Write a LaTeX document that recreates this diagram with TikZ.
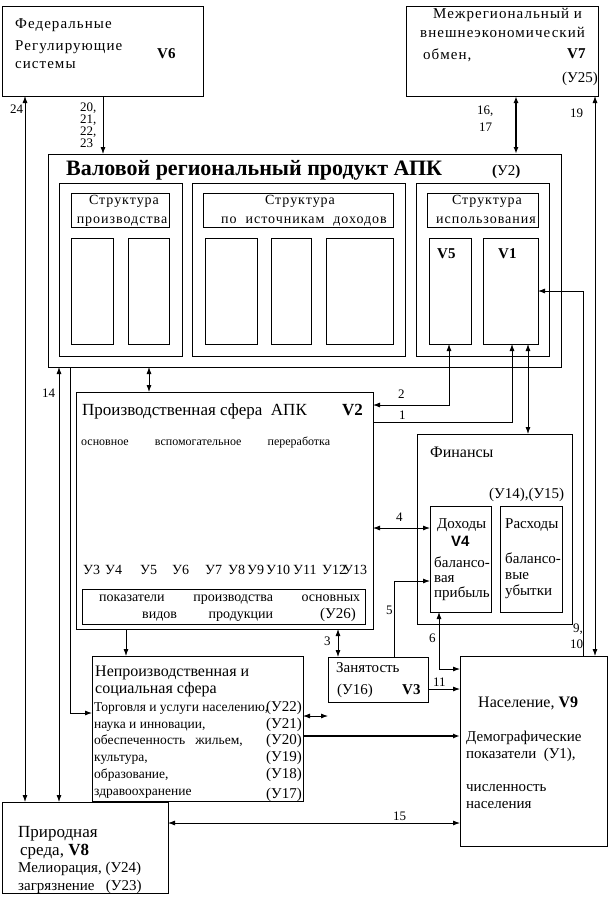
\documentclass[tikz,border=0pt]{standalone}
\usepackage{fontspec}
\setmainfont{Liberation Serif}
\setsansfont{Liberation Sans}
\newfontfamily\wsp{Liberation Serif}[LetterSpace=7]
\usetikzlibrary{arrows.meta}
\newcommand\fsz[1]{\fontsize{#1}{#1}\selectfont}

\begin{document}
\begin{tikzpicture}[x=1pt,y=-1pt,
  box/.style={draw, line width=0.8pt, inner sep=0pt, outer sep=0pt},
  arr/.style={-{Latex[length=7pt,width=5pt]}, line width=0.8pt},
  dbl/.style={{Latex[length=7pt,width=5pt]}-{Latex[length=7pt,width=5pt]}, line width=0.8pt},
  txt/.style={anchor=base west, inner sep=0pt, font=\fsz{15}},
  ctr/.style={anchor=base, inner sep=0pt, font=\wsp\fsz{14}},
  sml/.style={anchor=base west, inner sep=0pt, font=\fsz{13.5}},
  lbl/.style={anchor=base west, inner sep=0pt, font=\fsz{13}}]
\useasboundingbox (0,0) rectangle (614,900);

% boxes
\node[box, minimum width=201, minimum height=90] (v6) at (102.5,51) {};
\node[box, minimum width=192, minimum height=90] (v7) at (502,51) {};
\node[box, minimum width=513, minimum height=213] (vrp) at (304.5,260.5) {};
\node[box, minimum width=123, minimum height=173] (sp) at (120.5,269.5) {};
\node[box, minimum width=98, minimum height=34] (spH) at (120,210) {};
\node[box, minimum width=42, minimum height=106] (spA) at (92,291) {};
\node[box, minimum width=41, minimum height=106] (spB) at (148.5,291) {};
\node[box, minimum width=213, minimum height=173] (si) at (298.5,269.5) {};
\node[box, minimum width=190, minimum height=34] (siH) at (298,210) {};
\node[box, minimum width=52, minimum height=106] (siA) at (231,291) {};
\node[box, minimum width=40, minimum height=106] (siB) at (291,291) {};
\node[box, minimum width=67, minimum height=106] (siC) at (359.5,291) {};
\node[box, minimum width=133, minimum height=173] (su) at (482.5,269.5) {};
\node[box, minimum width=111, minimum height=34] (suH) at (482.5,210) {};
\node[box, minimum width=42, minimum height=106] (v5) at (450,291) {};
\node[box, minimum width=55, minimum height=106] (v1) at (510.5,291) {};
\node[box, minimum width=297, minimum height=237] (v2) at (224.5,510.5) {};
\node[box, minimum width=283, minimum height=35] (pok) at (223.5,606.5) {};
\node[box, minimum width=155, minimum height=190] (fin) at (494.5,529) {};
\node[box, minimum width=61, minimum height=106] (doh) at (460.5,559) {};
\node[box, minimum width=62, minimum height=106] (ras) at (531,559) {};
\node[box, minimum width=211, minimum height=145] (neps) at (197.5,728.5) {};
\node[box, minimum width=100, minimum height=45] (zan) at (378,679.5) {};
\node[box, minimum width=147, minimum height=190] (nas) at (533.5,751) {};
\node[box, minimum width=166, minimum height=91] (prir) at (85,847.5) {};

% texts
\node[txt, font=\wsp\fsz{15}] (v6a) at (15,28) {Федеральные};
\node[txt, font=\wsp\fsz{15}] (v6b) at (15,50) {Регулирующие};
\node[txt, font=\wsp\fsz{15}] (v6c) at (15,68) {системы};
\node[txt, font=\fsz{15}\bfseries] (v6n) at (157,58) {V6};
\node[txt, font=\wsp\fsz{15}] (v7a) at (433,18) {Межрегиональный и};
\node[txt, font=\wsp\fsz{15}] (v7b) at (420,37) {внешнеэкономический};
\node[txt, font=\wsp\fsz{15}] (v7c) at (423,59) {обмен,};
\node[txt, font=\fsz{15}\bfseries] (v7n) at (567,58) {V7};
\node[txt] (v7d) at (562,82) {(У25)};

\node[txt, font=\fsz{22}\bfseries] (vrpt) at (66,175) {Валовой региональный продукт АПК};
\node[txt] (vrpu) at (492,175) {\textbf{(}У2\textbf{)}};
\node[ctr] (spH1) at (124,204) {Структура};
\node[ctr] (spH2) at (122,223) {производства};
\node[ctr] (siH1) at (300,204) {Структура};
\node[ctr] (siH2) at (304,223) {по\ \ источникам\ \ доходов};
\node[ctr] (suH1) at (487,204) {Структура};
\node[ctr] (suH2) at (486,223) {использования};
\node[txt, font=\fsz{15}\bfseries] (v5n) at (437,258) {V5};
\node[txt, font=\fsz{15}\bfseries] (v1n) at (498,258) {V1};

\node[txt, font=\fsz{17}] (v2t) at (82,415) {Производственная сфера\ \ АПК};
\node[txt, font=\fsz{17}\bfseries] (v2n) at (342,415) {V2};
\node[sml, font=\fsz{12}] (v2s) at (81,445) {\makebox[249pt][s]{основное вспомогательное переработка}};
\foreach \px/\nm in {83/3,105/4,140/5,172/6,205/7,228/8,247/9,266/10,293/11,322/12,343/13}
  \node[txt, font=\fsz{14}] (u\nm) at (\px,574) {У\nm};
\node[txt, font=\fsz{14}] (pok1) at (99,601) {\makebox[261pt][s]{показатели производства основных}};
\node[txt, font=\fsz{14}] (pok2) at (142,618) {\makebox[131pt][s]{видов продукции}};
\node[txt, font=\fsz{15}] (pok3) at (320,618) {(У26)};

\node[txt, font=\fsz{16}] (fint) at (430,457) {Финансы};
\node[txt] (finu) at (489,498) {(У14),(У15)};
\node[txt] (doh1) at (437,528) {Доходы};
\node[txt, font=\fsz{15}\sffamily\bfseries] (v4n) at (451,546) {V4};
\node[txt] (doh2) at (434,567) {балансо-};
\node[txt] (doh3) at (434,582) {вая};
\node[txt] (doh4) at (434,597) {прибыль};
\node[txt] (ras1) at (505,528) {Расходы};
\node[txt] (ras2) at (505,563) {балансо-};
\node[txt] (ras3) at (505,579) {вые};
\node[txt] (ras4) at (505,595) {убытки};

\node[txt, font=\fsz{16}] (nep1) at (95,676) {Непроизводственная и};
\node[txt, font=\fsz{16}] (nep2) at (95,693) {социальная сфера};
\node[sml] (nep3) at (94,711) {Торговля и услуги населению,};
\node[sml] (nep4) at (94,728) {наука и инновации,};
\node[sml] (nep5) at (94,744) {обеспеченность\ \ \ жильем,};
\node[sml] (nep6) at (94,761) {культура,};
\node[sml] (nep7) at (94,778) {образование,};
\node[sml] (nep8) at (94,795) {здравоохранение};
\node[txt, anchor=base east] (y22) at (302,711) {(У22)};
\node[txt, anchor=base east] (y21) at (302,728) {(У21)};
\node[txt, anchor=base east] (y20) at (302,744) {(У20)};
\node[txt, anchor=base east] (y19) at (302,761) {(У19)};
\node[txt, anchor=base east] (y18) at (302,778) {(У18)};
\node[txt, anchor=base east] (y17) at (302,798) {(У17)};

\node[txt] (zan1) at (336,672) {Занятость};
\node[txt] (zan2) at (337,694) {(У16)};
\node[txt, font=\fsz{15}\bfseries] (v3n) at (402,694) {V3};

\node[txt, font=\fsz{16}] (nas1) at (478,707) {Население, \textbf{V9}};
\node[txt] (nas2) at (466,741) {Демографические};
\node[txt] (nas3) at (466,758) {показатели\ \ (У1),};
\node[txt] (nas4) at (466,791) {численность};
\node[txt] (nas5) at (466,808) {населения};

\node[txt, font=\fsz{17}] (pr1) at (18,837) {Природная};
\node[txt, font=\fsz{17}] (pr2) at (20,855) {среда, \textbf{V8}};
\node[txt] (pr3) at (18,872) {Мелиорация,\ (У24)};
\node[txt] (pr4) at (18,890) {загрязнение\ \ \ (У23)};

% connector labels
\node[lbl] (l20) at (80,111) {20,};
\node[lbl] (l21) at (80,123) {21,};
\node[lbl] (l22) at (80,135) {22,};
\node[lbl] (l23) at (80,147) {23};
\node[lbl] (l24) at (10,113) {24};
\node[lbl] (l16) at (477,114) {16,};
\node[lbl] (l17) at (479,131) {17};
\node[lbl] (l19) at (570,117) {19};
\node[lbl] (l14) at (42,397) {14};
\node[lbl] (l2) at (398,398) {2};
\node[lbl] (l1) at (399,419) {1};
\node[lbl] (l4) at (396,521) {4};
\node[lbl] (l5) at (386,614) {5};
\node[lbl] (l6) at (429,642) {6};
\node[lbl] (l9) at (573,632) {9,};
\node[lbl] (l10) at (570,648) {10};
\node[lbl] (l3) at (324,645) {3};
\node[lbl] (l11) at (433,686) {11};
\node[lbl] (l15) at (393,820) {15};

% connectors
\draw[arr] (103,0 |- v6.south) -- (103,0 |- vrp.north);
\draw[dbl] (25,0 |- v6.south) -- (25,0 |- prir.north);
\draw[dbl, line width=2pt] (516,0 |- v7.south) -- (516,0 |- vrp.north);
\draw[dbl] (595,0 |- v7.south) -- (595,0 |- nas.north);
\draw[arr] (583,0 |- nas.north) |- (v1.east |- 0,291);
\draw[dbl] (449,0 |- v5.south) |- (v2.east |- 0,405);
\draw[arr] (v2.east |- 0,422) -| (512,0 |- v1.south);
\draw[dbl] (528,0 |- v1.south) -- (528,0 |- fin.north);
\draw[dbl] (149,0 |- vrp.south) -- (149,0 |- v2.north);
\draw[dbl] (59,0 |- vrp.south) -- (59,0 |- prir.north);
\draw[arr] (70,0 |- vrp.south) |- (neps.west |- 0,713);
\draw[arr] (126,0 |- v2.south) -- (126,0 |- neps.north);
\draw[dbl] (v2.east |- 0,528) -- (doh.west |- 0,528);
\draw[arr] (394,0 |- zan.north) |- (doh.west |- 0,581);
\draw[dbl] (439,0 |- doh.south) |- (nas.west |- 0,669);
\draw[dbl] (338,0 |- v2.south) -- (338,0 |- zan.north);
\draw[dbl] (neps.east |- 0,716) -- (zan.west |- 0,716);
\draw[arr] (zan.east |- 0,689) -- (nas.west |- 0,689);
\draw[arr, line width=2pt] (neps.east |- 0,736) -- (nas.west |- 0,736);
\draw[dbl] (nas.west |- 0,823) -- (prir.east |- 0,823);
\end{tikzpicture}
\end{document}
